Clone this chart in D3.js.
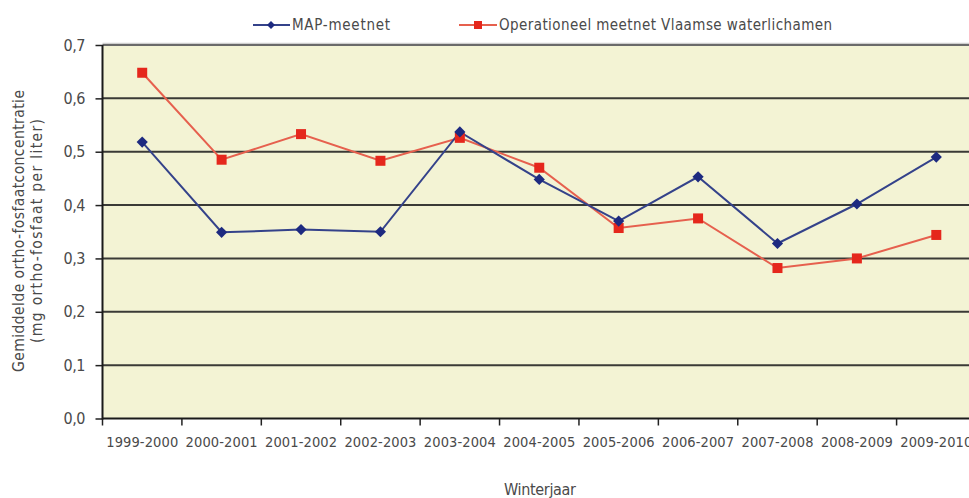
<!DOCTYPE html>
<html>
<head>
<meta charset="utf-8">
<script src="https://cdn.jsdelivr.net/npm/d3@7"></script>
<style>
  body { margin: 0; background: #fff; overflow: hidden; }
  text { font-family: "Liberation Sans Narrow", "DejaVu Sans Condensed", sans-serif; fill: #4a4a4a; }
</style>
</head>
<body>
<script>
// winterjaren on the x axis
var years = ["1999-2000", "2000-2001", "2001-2002", "2002-2003", "2003-2004", "2004-2005",
             "2005-2006", "2006-2007", "2007-2008", "2008-2009", "2009-2010"];

// mean ortho-phosphate concentration (mg per liter)
var mapMeetnet = [0.518, 0.349, 0.354, 0.350, 0.537, 0.448, 0.370, 0.453, 0.328, 0.402, 0.490];
var operationeel = [0.648, 0.485, 0.533, 0.483, 0.526, 0.470, 0.357, 0.375, 0.282, 0.300, 0.344];

var yTicks = [0, 0.1, 0.2, 0.3, 0.4, 0.5, 0.6, 0.7];
var seriesNames = ["MAP-meetnet", "Operationeel meetnet Vlaamse waterlichamen"];

var width = 969,
    height = 498;

var plotLeft = 102.5, plotTop = 45, plotRight = 976, plotBottom = 418.5;

var svg = d3.select("body")
    .append("svg")
    .attr("width", width)
    .attr("height", height);

var x = d3.scaleBand()
    .domain(years)
    .range([plotLeft, plotRight]);

var y = d3.scaleLinear()
    .domain([0, 0.7])
    .range([plotBottom, plotTop]);

//plot background
svg.append("rect")
    .attr("x", plotLeft)
    .attr("y", plotTop)
    .attr("width", plotRight - plotLeft)
    .attr("height", plotBottom - plotTop)
    .attr("fill", "#f3f3d4");

//light shadow line above the plot
svg.append("line")
    .attr("x1", plotLeft).attr("x2", plotRight)
    .attr("y1", plotTop - 1.5).attr("y2", plotTop - 1.5)
    .attr("stroke", "#cfcfcf").attr("stroke-width", 1.5);

//horizontal gridlines
svg.selectAll(".grid")
    .data(yTicks.slice(1))
    .enter()
    .append("line")
    .attr("class", "grid")
    .attr("x1", plotLeft).attr("x2", plotRight)
    .attr("y1", function(d){ return y(d); })
    .attr("y2", function(d){ return y(d); })
    .attr("stroke", function(d){ return d == 0.7 ? "#6a6a6a" : "#3a3a36"; })
    .attr("stroke-width", 2);

//y axis
var yAxis = d3.axisLeft(y)
    .tickValues(yTicks)
    .tickSize(7)
    .tickPadding(10)
    .tickFormat(function(d){ return d3.format(".1f")(d).replace(".", ","); });

var gy = svg.append("g")
    .attr("transform", "translate(" + plotLeft + ",0)")
    .call(yAxis);
gy.select(".domain").remove();
gy.selectAll(".tick line").attr("stroke", "#222").attr("stroke-width", 1.5);
gy.selectAll(".tick text")
    .style("font-size", "16px")
    .attr("textLength", 22)
    .attr("fill", "#505050");

//x axis with ticks at the category boundaries
var gx = svg.append("g")
    .attr("transform", "translate(0," + plotBottom + ")")
    .call(d3.axisBottom(x).tickSize(0).tickPadding(18));
gx.select(".domain").remove();
gx.selectAll(".tick text")
    .style("font-size", "14.5px")
    .attr("textLength", 72)
    .attr("fill", "#444");

svg.selectAll(".xtick")
    .data(years)
    .enter()
    .append("line")
    .attr("class", "xtick")
    .attr("x1", function(d){ return x(d); })
    .attr("x2", function(d){ return x(d); })
    .attr("y1", plotBottom).attr("y2", plotBottom + 7)
    .attr("stroke", "#222").attr("stroke-width", 1.5);

//axis lines
svg.append("line")
    .attr("x1", plotLeft).attr("x2", plotRight)
    .attr("y1", plotBottom).attr("y2", plotBottom)
    .attr("stroke", "#1a1a1a").attr("stroke-width", 2);
svg.append("line")
    .attr("x1", plotLeft).attr("x2", plotLeft)
    .attr("y1", plotTop).attr("y2", plotBottom + 1)
    .attr("stroke", "#1a1a1a").attr("stroke-width", 2);

//lines
var line = d3.line()
    .x(function(d, i){ return x(years[i]) + x.bandwidth() / 2; })
    .y(function(d){ return y(d); });

svg.append("path")
    .datum(operationeel)
    .attr("d", line)
    .attr("fill", "none")
    .attr("stroke", "#e6604e")
    .attr("stroke-width", 2);

svg.append("path")
    .datum(mapMeetnet)
    .attr("d", line)
    .attr("fill", "none")
    .attr("stroke", "#34428a")
    .attr("stroke-width", 2);

var diamond = d3.symbol().type(d3.symbolDiamond2).size(80);

svg.selectAll(".redpt")
    .data(operationeel)
    .enter()
    .append("rect")
    .attr("class", "redpt")
    .attr("x", function(d, i){ return x(years[i]) + x.bandwidth() / 2 - 5; })
    .attr("y", function(d){ return y(d) - 5; })
    .attr("width", 10).attr("height", 10)
    .attr("fill", "#e5271c");

svg.selectAll(".bluept")
    .data(mapMeetnet)
    .enter()
    .append("path")
    .attr("class", "bluept")
    .attr("d", diamond)
    .attr("transform", function(d, i){
        return "translate(" + (x(years[i]) + x.bandwidth() / 2) + "," + y(d) + ")";
    })
    .attr("fill", "#1d2a80");

//legend
var legend = svg.append("g");
legend.append("line")
    .attr("x1", 253).attr("x2", 290).attr("y1", 25).attr("y2", 25)
    .attr("stroke", "#34428a").attr("stroke-width", 2);
legend.append("path")
    .attr("d", d3.symbol().type(d3.symbolDiamond2).size(40))
    .attr("transform", "translate(271,25)")
    .attr("fill", "#1d2a80");
legend.append("text")
    .attr("x", 292).attr("y", 30)
    .attr("textLength", 98)
    .style("font-size", "15px")
    .text(seriesNames[0]);

legend.append("line")
    .attr("x1", 459).attr("x2", 497).attr("y1", 25).attr("y2", 25)
    .attr("stroke", "#e6604e").attr("stroke-width", 2);
legend.append("rect")
    .attr("x", 474).attr("y", 21).attr("width", 8).attr("height", 8)
    .attr("fill", "#e5271c");
legend.append("text")
    .attr("x", 499).attr("y", 30)
    .attr("textLength", 333)
    .style("font-size", "15px")
    .text(seriesNames[1]);

//axis titles
svg.append("text")
    .attr("x", 540).attr("y", 495)
    .attr("text-anchor", "middle")
    .attr("textLength", 72)
    .style("font-size", "16px")
    .text("Winterjaar");

svg.append("text")
    .attr("transform", "translate(24,231) rotate(-90)")
    .attr("text-anchor", "middle")
    .attr("textLength", 282)
    .style("font-size", "15.5px")
    .text("Gemiddelde ortho-fosfaatconcentratie");

svg.append("text")
    .attr("transform", "translate(42,231) rotate(-90)")
    .attr("text-anchor", "middle")
    .attr("textLength", 224)
    .style("font-size", "15.5px")
    .text("(mg ortho-fosfaat per liter)");
</script>
</body>
</html>
